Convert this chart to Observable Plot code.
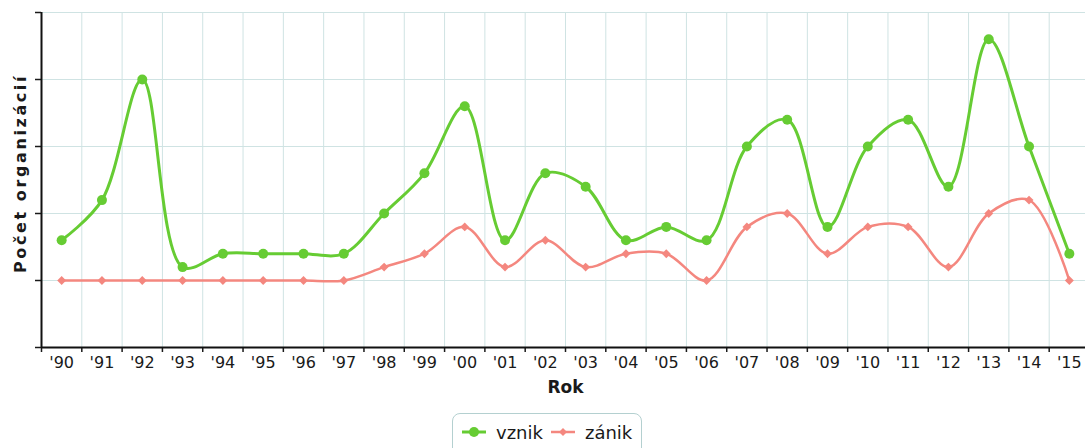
<!DOCTYPE html>
<html>
<head>
<meta charset="utf-8">
<script src="https://cdn.jsdelivr.net/npm/d3@7"></script>
<script src="https://cdn.jsdelivr.net/npm/@observablehq/plot@0.6"></script>
<style>
  html, body { margin: 0; padding: 0; background: #fff; overflow: hidden; width: 1085px; height: 448px; }
  #chart { position: absolute; left: 0; top: 0; }
  #legend {
    position: absolute; left: 452px; top: 413px; width: 190px; height: 44px;
    border: 1.5px solid #b4d0d0; border-radius: 8px; box-sizing: border-box;
    font-family: "DejaVu Sans", Verdana, sans-serif; font-size: 18px; color: #1a1a1a;
    display: flex; align-items: center; padding-left: 9px; padding-bottom: 6px;
  }
  #legend .item { display: flex; align-items: center; margin-right: 8px; }
  #legend svg { margin-right: 10px; }
</style>
</head>
<body>
<div id="chart"></div>
<div id="legend"></div>
<script>
const years = ["'90","'91","'92","'93","'94","'95","'96","'97","'98","'99","'00","'01","'02","'03","'04","'05","'06","'07","'08","'09","'10","'11","'12","'13","'14","'15"];
const vznik = [3,6,15,1,2,2,2,2,5,8,13,3,8,7,3,4,3,10,12,4,10,12,7,18,10,2];
const zanik = [0,0,0,0,0,0,0,0,1,2,4,1,3,1,2,2,0,4,5,2,4,4,1,5,6,0];
const yTicks = [-5,0,5,10,15,20];
const seriesNames = ["vznik","zánik"];
const seriesColors = ["#66cc33","#f4877f"];
const xTitle = "Rok";
const yTitle = "Počet organizácií";

const idx = years.map((_, i) => i);
const bounds = d3.range(-0.5, years.length, 1);
const rowsV = idx.map(i => ({i, v: vznik[i]}));
const rowsZ = idx.map(i => ({i, v: zanik[i]}));

const font = "DejaVu Sans, Verdana, sans-serif";

const chart = Plot.plot({
  width: 1089,
  height: 405,
  marginLeft: 41,
  marginRight: 0,
  marginTop: 12,
  marginBottom: 58,
  style: {fontFamily: font, fontSize: "16px", color: "#1a1a1a", maxWidth: "none", overflow: "visible"},
  x: {type: "linear", domain: [-0.5, years.length - 0.5]},
  y: {domain: [-5, 20]},
  marks: [
    Plot.gridX(bounds, {stroke: "#cfe3e3", strokeOpacity: 1}),
    Plot.gridY(yTicks.filter(d => d > -5), {stroke: "#cfe3e3", strokeOpacity: 1}),
    Plot.axisY(yTicks, {tickFormat: () => "", tickSize: 6, label: null, strokeWidth: 1.5}),
    Plot.axisX(bounds, {tickFormat: () => "", tickSize: 5, label: null, strokeWidth: 1.5}),
    Plot.axisX(idx, {tickSize: 0, tickPadding: 9, tickFormat: i => years[i], label: null, fontSize: 16}),
    Plot.ruleY([-5], {stroke: "#111", strokeWidth: 2}),
    Plot.ruleX([-0.5], {stroke: "#111", strokeWidth: 2}),
    Plot.line(rowsZ, {x: "i", y: "v", stroke: seriesColors[1], strokeWidth: 2.5, curve: "catmull-rom"}),
    Plot.dot(rowsZ, {x: "i", y: "v", fill: seriesColors[1], symbol: "diamond2", r: 4}),
    Plot.line(rowsV, {x: "i", y: "v", stroke: seriesColors[0], strokeWidth: 3, curve: "catmull-rom"}),
    Plot.dot(rowsV, {x: "i", y: "v", fill: seriesColors[0], r: 5}),
    Plot.text([xTitle], {frameAnchor: "bottom", dy: 45, fontWeight: "bold", fontSize: 17, fill: "#1a1a1a"}),
    Plot.text([yTitle], {frameAnchor: "left", rotate: -90, textAnchor: "start", dx: -21, dy: 93, fontWeight: "bold", fontSize: 16, fill: "#1a1a1a"})
  ]
});
d3.select(chart).selectAll("text").each(function () {
  const t = this.textContent;
  if (t === yTitle) this.style.letterSpacing = "2.6px";
});
document.getElementById("chart").appendChild(chart);

const legend = document.getElementById("legend");
seriesNames.forEach((name, k) => {
  const item = document.createElement("div");
  item.className = "item";
  const marker = k === 0
    ? `<circle cx="12" cy="7" r="5" fill="${seriesColors[k]}"/>`
    : `<path d="M12,3 L16,7 L12,11 L8,7 Z" fill="${seriesColors[k]}"/>`;
  item.innerHTML = `<svg width="24" height="14"><line x1="0" x2="24" y1="7" y2="7" stroke="${seriesColors[k]}" stroke-width="${k === 0 ? 3 : 2.5}"/>${marker}</svg><span>${name}</span>`;
  legend.appendChild(item);
});
</script>
</body>
</html>
